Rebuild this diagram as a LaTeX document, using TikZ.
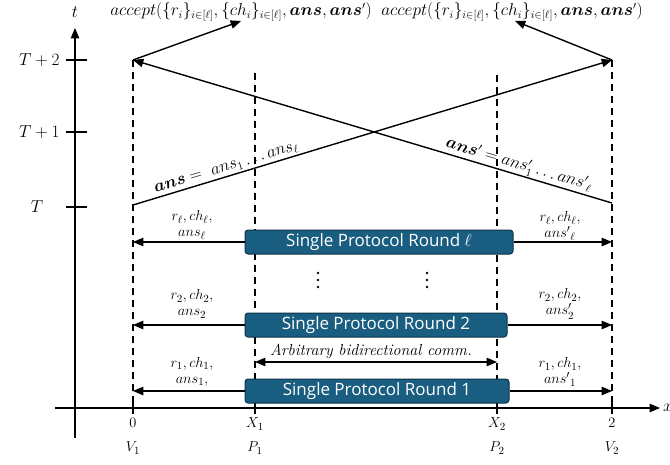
\documentclass[tikz,border=0pt]{standalone}
\usepackage{amsmath}
\usepackage{amssymb}
\usepackage{bm}
\usepackage{fontspec}
\newfontfamily\roundfont{Open Sans}
\usetikzlibrary{arrows}
\definecolor{roundfill}{rgb}{0.10,0.37,0.50}
\definecolor{roundline}{rgb}{0.05,0.20,0.29}

\begin{document}
\begin{tikzpicture}[x=1pt,y=-1pt,line join=round,>=triangle 45,
  every node/.style={font=\fontsize{15}{16}\selectfont},
  roundbox/.style={draw=roundline,fill=roundfill,line width=1pt,rounded corners=3pt,
    text=white,minimum height=24pt,inner sep=0pt,font=\roundfont\fontsize{17}{18}\selectfont},
  party/.style={line width=1.5pt,dash pattern=on 7pt off 5pt},
  msg/.style={line width=1.4pt,->},
  lbl/.style={align=center,inner sep=1pt},
  big/.style={font=\fontsize{16}{18}\selectfont}]
\useasboundingbox (0,0) rectangle (670,464);
% axes
\draw[line width=1.4pt,->] (75,438) -- (75,28);
\draw[line width=1.4pt,->] (55,408) -- (660,408);
\node[big] (tlab) at (75,12) {$t$};
\node[big,anchor=west,inner sep=0pt] (xlab) at (663,408) {$x$};
% time ticks
\draw[line width=1.4pt] (66,60) -- (87,60);
\draw[line width=1.4pt] (66,132) -- (87,132);
\draw[line width=1.4pt] (66,207) -- (87,207);
\node[anchor=east,font=\fontsize{18}{18}\selectfont] (tT2) at (63,60) {$T+2$};
\node[anchor=east,font=\fontsize{18}{18}\selectfont] (tT1) at (63,132) {$T+1$};
\node[font=\fontsize{18}{18}\selectfont] (tT) at (37,207) {$T$};
% parties
\coordinate (V1top) at (133,60);
\coordinate (V1low) at (133,205);
\coordinate (V2top) at (612,60);
\coordinate (V2low) at (612,203);
\draw[party] (V1top) -- (133,408);
\draw[party] (255,73) -- (255,408);
\draw[party] (497,75) -- (497,408);
\draw[party] (V2top) -- (612,408);
\foreach \px in {133,255,497,612}
  \draw[line width=1.4pt] (\px,403) -- (\px,414);
\node (x0) at (133,423) {$0$};
\node (xX1) at (255,424) {$X_1$};
\node (xX2) at (497,424) {$X_2$};
\node (x2) at (612,423) {$2$};
\node (nV1) at (133,448) {$V_1$};
\node (nP1) at (255,448) {$P_1$};
\node (nP2) at (497,448) {$P_2$};
\node (nV2) at (612,448) {$V_2$};
% final answers
\draw[msg] (V1low) -- (V2top)
  node[big,pos=0.2,sloped,above,inner sep=2pt] (ansL) {$\bm{ans} =\ ans_1 \dots ans_\ell$};
\draw[msg] (V2low) -- (V1top)
  node[big,pos=0.2,sloped,above,inner sep=1pt] (ansR) {$\bm{ans}' = ans'_1 \dots ans'{}_\ell$};
\node[big] (accL) at (241,12) {$accept(\{r_i\}_{i\in[\ell]},\{ch_i\}_{i\in[\ell]},\bm{ans},\bm{ans}')$};
\node[big] (accR) at (512,12) {$accept(\{r_i\}_{i\in[\ell]},\{ch_i\}_{i\in[\ell]},\bm{ans},\bm{ans}')$};
\draw[msg] (V1top) -- (241,21);
\draw[msg] (V2top) -- (515,21);
% rounds
\node[roundbox,minimum width=268pt] (roundL) at (379,242) {Single Protocol Round $\ell$};
\node[roundbox,minimum width=262pt] (round2) at (376,325) {Single Protocol Round 2};
\node[roundbox,minimum width=264pt] (round1) at (377,391) {Single Protocol Round 1};
\draw[msg] (roundL.west) -- (133,242);
\draw[msg] (roundL.east) -- (612,242);
\draw[msg] (round2.west) -- (133,325);
\draw[msg] (round2.east) -- (612,325);
\draw[msg] (round1.west) -- (133,391);
\draw[msg] (round1.east) -- (612,391);
\node[lbl] (mL1) at (192,225) {$r_\ell, ch_\ell,$\\$ans_\ell$};
\node[lbl] (mR1) at (560,226) {$r_\ell, ch_\ell,$\\$ans'{}_\ell$};
\node[lbl] (mL2) at (192,304) {$r_2, ch_2,$\\$ans_2$};
\node[lbl] (mR2) at (560,304) {$r_2, ch_2,$\\$ans_2'$};
\node[lbl] (mL3) at (192,372) {$r_1, ch_1,$\\$ans_1,$};
\node[lbl] (mR3) at (560,372) {$r_1, ch_1,$\\$ans'{}_1$};
% vertical dots
\foreach \dx in {318,427}
  \foreach \dy in {273,280,287}
    \fill (\dx,\dy) circle (1.4pt);
% between the provers
\draw[line width=1.4pt,<->] (255,362) -- (497,362);
\node[big] (comm) at (371,351) {\textit{Arbitrary bidirectional comm.}};
\end{tikzpicture}
\end{document}
